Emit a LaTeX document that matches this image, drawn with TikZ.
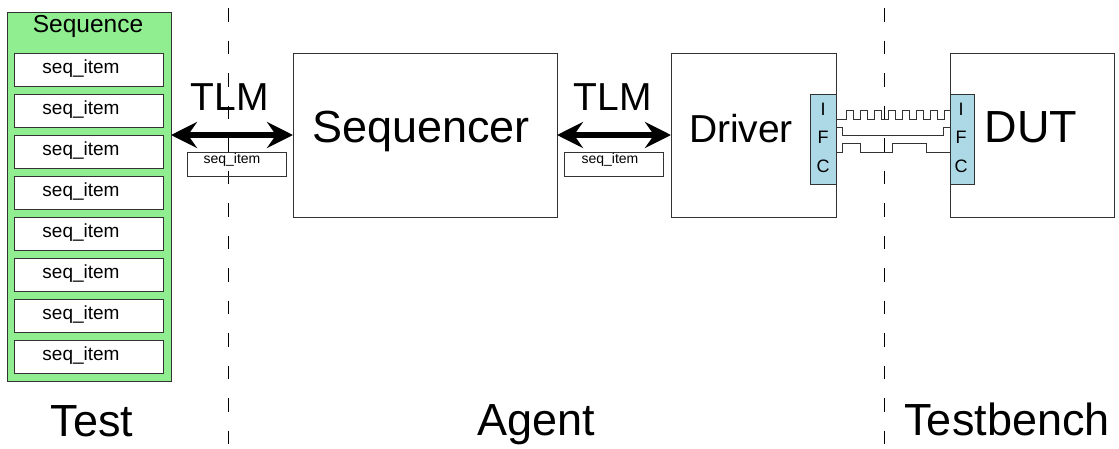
\documentclass[tikz,border=0pt]{standalone}
\usepackage{fontspec}
\setmainfont{Liberation Sans}
\usetikzlibrary{arrows.meta}
\definecolor{seqgreen}{HTML}{90EE90}
\definecolor{ifcblue}{HTML}{ADD8E6}
\definecolor{edgegray}{HTML}{333333}
\tikzset{
  box/.style={draw=edgegray, line width=0.9pt, inner sep=0pt, outer sep=0pt, anchor=north west},
  txt/.style={inner sep=0pt, anchor=base, text=black},
  huge/.style={txt, font=\fontsize{45}{45}\selectfont},
  big/.style={txt, font=\fontsize{39}{39}\selectfont},
  itemtxt/.style={txt, font=\fontsize{19}{19}\selectfont},
  smalltxt/.style={txt, font=\fontsize{14}{14}\selectfont},
  ifctxt/.style={txt, font=\fontsize{18}{18}\selectfont},
  divider/.style={draw=black, line width=0.9pt, dash pattern=on 13.5pt off 19pt, dash phase=24.5pt},
  tlm/.style={line width=6pt, {Stealth[length=26pt, width=26pt, inset=9pt]}-{Stealth[length=26pt, width=26pt, inset=9pt]}},
  wire/.style={draw=edgegray, line width=0.9pt},
}
\begin{document}
\begin{tikzpicture}[x=1pt, y=-1pt]
\useasboundingbox (0,0) rectangle (1119,448);

% section dividers
\coordinate (divAtop) at (228,0);
\coordinate (divAbot) at (228,448);
\coordinate (divBtop) at (884,0);
\coordinate (divBbot) at (884,448);
\draw[divider] (divAtop) -- (divAbot);
\draw[divider] (divBtop) -- (divBbot);

% sequence with its items
\node[box, fill=seqgreen, minimum width=164pt, minimum height=369pt] (sequence) at (7,12) {};
\node[txt, font=\fontsize{24.5}{24.5}\selectfont] (sequencetitle) at (88,32) {Sequence};
\foreach \k in {1,...,8} {
  \node[box, fill=white, minimum width=149pt, minimum height=33pt] (item\k) at (14,{53+41*(\k-1)}) {};
  \node[itemtxt] (itemtext\k) at (81,{73+41*(\k-1)}) {seq\_item};
}

% sequencer, driver and DUT
\node[box, minimum width=264pt, minimum height=164pt] (sequencer) at (293,53) {};
\node[huge] (sequencerlabel) at (421,142) {Sequencer};
\node[box, minimum width=165pt, minimum height=164pt] (driver) at (671,53) {};
\node[big] (driverlabel) at (741,142) {Driver};
\node[box, minimum width=164pt, minimum height=164pt] (dut) at (950,53) {};
\node[huge] (dutlabel) at (1031,142) {DUT};

% interfaces
\node[box, fill=ifcblue, minimum width=26pt, minimum height=90pt] (drvifc) at (810,94) {};
\node[box, fill=ifcblue, minimum width=24pt, minimum height=90pt] (dutifc) at (950,94) {};
\node[ifctxt] (drvifcI) at (823,115.5) {I};
\node[ifctxt] (drvifcF) at (823,143.5) {F};
\node[ifctxt] (drvifcC) at (823,172.5) {C};
\node[ifctxt] (dutifcI) at (961,115.5) {I};
\node[ifctxt] (dutifcF) at (961,143.5) {F};
\node[ifctxt] (dutifcC) at (961,172.5) {C};

% TLM links
\draw[tlm] (sequence.east |- sequencer.west) -- (sequencer.west);
\draw[tlm] (sequencer.east) -- (driver.west);
\node[big] (tlmA) at (229.5,110) {TLM};
\node[big] (tlmB) at (612.5,110) {TLM};
\node[box, minimum width=99pt, minimum height=24pt] (packetA) at (187,152) {};
\node[smalltxt] (packetAtext) at (232,163) {seq\_item};
\node[box, minimum width=99pt, minimum height=24pt] (packetB) at (564,152) {};
\node[smalltxt] (packetBtext) at (610,163) {seq\_item};

% pin-level signals between the interfaces
\draw[wire] (drvifc.east |- 0,119) -- (846,119)
  \foreach \k in {0,...,6} { -- ({846+14*\k},110) -- ({853+14*\k},110) -- ({853+14*\k},119) -- ({860+14*\k},119) }
  -- (944,110) -- (dutifc.west |- 0,110);
\draw[wire] (drvifc.east |- 0,127) -- (842,127) -- (842,135) -- (943,135) -- (943,127) -- (dutifc.west |- 0,127);
\draw[wire] (drvifc.east |- 0,152) -- (842,152) -- (842,143) -- (860,143) -- (860,152) -- (892,152)
  -- (892,143) -- (926,143) -- (926,152) -- (dutifc.west |- 0,152);

% section names
\node[huge] (testlabel) at (92,436) {Test};
\node[huge] (agentlabel) at (536,435) {Agent};
\node[huge] (tblabel) at (1007,435) {Testbench};
\end{tikzpicture}
\end{document}
